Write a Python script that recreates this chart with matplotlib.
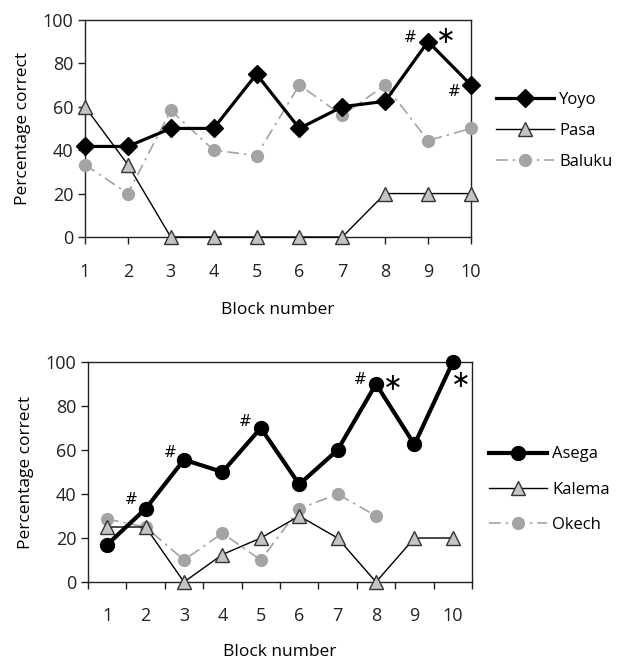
import matplotlib.pyplot as plt

plt.rcParams['font.family'] = ['Open Sans', 'DejaVu Sans']

blocks = list(range(1, 11))

# top panel
yoyo = [41.7, 41.7, 50, 50, 75, 50, 60, 62.5, 90, 70]
pasa = [60, 33.3, 0, 0, 0, 0, 0, 20, 20, 20]
baluku = [33.3, 20, 58.3, 40, 37.5, 70, 56, 70, 44.4, 50]

# bottom panel
asega = [17, 33.3, 55.6, 50, 70, 44.4, 60, 90, 62.5, 100]
kalema = [25, 25, 0, 12.5, 20, 30, 20, 0, 20, 20]
okech = [28.6, 25, 10, 22.2, 10, 33.3, 40, 30]

# significance marks: (block, symbol, dx, dy) offsets in points
top_marks = [(9, '#', -13, 3), (9, '∗', 13, 4), (10, '#', -12, -5)]
bottom_marks = [(2, '#', -10, 7), (3, '#', -10, 5), (5, '#', -11, 5), (8, '#', -11, 3),
                (8, '∗', 12, 1), (10, '∗', 6, -13)]

fig = plt.figure(figsize=(6.18, 6.62), dpi=100)
ax1 = fig.add_axes([0.1375, 0.642, 0.6245, 0.328])
ax2 = fig.add_axes([0.1424, 0.1208, 0.6214, 0.3324])

tri_col = '#c4c4c4'
dot_col = '#a3a3a3'

def style(ax):
    ax.set_ylim(0, 100)
    ax.set_yticks([0, 20, 40, 60, 80, 100])
    ax.tick_params(labelsize=13, length=5, width=1, direction='out', colors='#222222')
    for s in ax.spines.values():
        s.set_linewidth(1)
        s.set_color('#222222')
    ax.set_ylabel('Percentage correct', fontsize=12.5, labelpad=8)

def marks(ax, series, lst):
    for b, sym, dx, dy in lst:
        size = 11 if sym == '#' else 17
        ax.annotate(sym, (b, series[b - 1]), xytext=(dx, dy), textcoords='offset points',
                    ha='center', va='center', fontsize=size, family='DejaVu Sans', annotation_clip=False)

# top
ax1.plot(blocks, yoyo, color='black', lw=2.3, marker='D', ms=9, label='Yoyo', clip_on=False, zorder=5)
ax1.plot(blocks, pasa, color='black', lw=1, marker='^', ms=10, mfc=tri_col, mec='#333333', label='Pasa', clip_on=False, zorder=4)
ax1.plot(blocks, baluku, color=dot_col, lw=1.2, ls=(0, (7, 3, 1.5, 3)), marker='o', ms=8.5, mec=dot_col,
         label='Baluku', clip_on=False, zorder=3)
ax1.set_xlim(1, 10)
ax1.set_xticks(blocks)
style(ax1)
ax1.tick_params(axis='x', pad=14)
ax1.set_xlabel('Block number', fontsize=12.5, labelpad=15)
marks(ax1, yoyo, top_marks)
ax1.legend(loc='center left', bbox_to_anchor=(1.025, 0.49), frameon=False, fontsize=12,
           handlelength=3.5, handletextpad=0.3, labelspacing=0.9)

# bottom
ax2.plot(blocks, asega, color='black', lw=3, marker='o', ms=10, label='Asega', clip_on=False, zorder=5)
ax2.plot(blocks, kalema, color='black', lw=1, marker='^', ms=10, mfc=tri_col, mec='#333333', label='Kalema',
         clip_on=False, zorder=4)
ax2.plot(blocks[:len(okech)], okech, color=dot_col, lw=1.2, ls=(0, (7, 3, 1.5, 3)), marker='o', ms=8.5, mec=dot_col,
         label='Okech', clip_on=False, zorder=3)
ax2.set_xlim(0.5, 10.5)
ax2.set_xticks([b + 0.5 for b in [0] + blocks])
ax2.set_xticklabels([])
ax2.set_xticks(blocks, minor=True)
ax2.set_xticklabels([str(b) for b in blocks], minor=True)
style(ax2)
ax2.tick_params(axis='x', which='minor', length=0, labelsize=13, pad=18, colors='#222222')
ax2.set_xlabel('Block number', fontsize=12.5, labelpad=14)
marks(ax2, asega, bottom_marks)
ax2.legend(loc='center left', bbox_to_anchor=(1.005, 0.42), frameon=False, fontsize=12,
           handlelength=3.5, handletextpad=0.3, labelspacing=1.15)

fig.savefig('out.png', dpi=100)
